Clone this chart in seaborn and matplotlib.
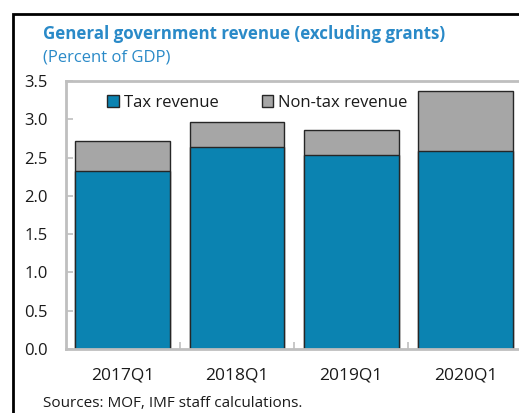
import numpy as np
import pandas as pd
import seaborn as sns
import matplotlib.pyplot as plt
from matplotlib.patches import Patch, Rectangle

# values (percent of GDP)
quarters = ["2017Q1", "2018Q1", "2019Q1", "2020Q1"]
tax_revenue = [2.32, 2.64, 2.53, 2.59]
nontax_revenue = [0.39, 0.32, 0.33, 0.78]

blue = "#0b83b1"
grey = "#a6a6a6"
title_blue = "#2a8ac8"

sns.set_style("white")
plt.rcParams["font.family"] = ["Open Sans", "DejaVu Sans"]

df = pd.DataFrame({"quarter": quarters, "tax": tax_revenue, "nontax": nontax_revenue})
df["total"] = df["tax"] + df["nontax"]

fig = plt.figure(figsize=(5.19, 4.13), dpi=100)
W, H = 519, 413
ax = fig.add_axes([65.5 / W, (H - 349) / H, 457.2 / W, (349 - 81) / H])

# stacked bars: total first (grey), tax revenue over it (blue)
sns.barplot(data=df, x="quarter", y="total", color=grey, width=0.83,
            edgecolor="#262626", linewidth=1.0, saturation=1, ax=ax)
sns.barplot(data=df, x="quarter", y="tax", color=blue, width=0.83,
            edgecolor="#262626", linewidth=1.0, saturation=1, ax=ax)

ax.set_xlim(-0.5, len(quarters) - 0.5)
ax.set_ylim(0, 3.5)
ax.set_yticks(np.arange(0, 3.51, 0.5))
ax.set_yticklabels([f"{v:.1f}" for v in np.arange(0, 3.51, 0.5)])
ax.set_xticks(np.arange(0.5, len(quarters) - 0.5, 1), minor=True)
ax.set_xlabel("")
ax.set_ylabel("")

for s in ax.spines.values():
    s.set_color("#bfbfbf")
    s.set_linewidth(2)
ax.spines["right"].set_visible(False)

ax.tick_params(axis="y", direction="in", length=5, width=1.2, color="#bfbfbf",
               left=True, pad=13, labelsize=12, labelcolor="#1a1a1a")
ax.tick_params(axis="x", which="major", length=0, pad=13, labelsize=12.5,
               labelcolor="#1a1a1a")
ax.tick_params(axis="x", which="minor", direction="in", length=5, width=1.2,
               color="#bfbfbf", bottom=True)

handles = [Patch(facecolor=blue, edgecolor="#262626", label="Tax revenue"),
           Patch(facecolor=grey, edgecolor="#262626", label="Non-tax revenue")]
ax.legend(handles=handles, ncol=2, frameon=False, loc="center left",
          bbox_to_anchor=((107 - 65.5) / 457.2, (349 - 103) / 268),
          handlelength=0.7, handleheight=0.7, handletextpad=0.3,
          columnspacing=2.6, fontsize=12, labelcolor="#1a1a1a",
          borderaxespad=0, borderpad=0)

# headings and source note
fig.text(43 / W, 1 - 34 / H, "General government revenue (excluding grants)",
         color=title_blue, fontsize=12.2, fontweight="bold", va="center", ha="left")
fig.text(43 / W, 1 - 57 / H, "(Percent of GDP)", color=title_blue,
         fontsize=12, va="center", ha="left")
fig.text(43 / W, 1 - 411 / H, "Sources: MOF, IMF staff calculations.",
         color="#1a1a1a", fontsize=11, va="bottom", ha="left")

# outer black frame (cut at right and bottom)
fig.patches.append(Rectangle((12.5 / W, -0.1), 1.2, 1 - 14 / H + 0.1,
                             transform=fig.transFigure, fill=False,
                             edgecolor="black", linewidth=2, zorder=10))

fig.savefig("out.png", dpi=100)
